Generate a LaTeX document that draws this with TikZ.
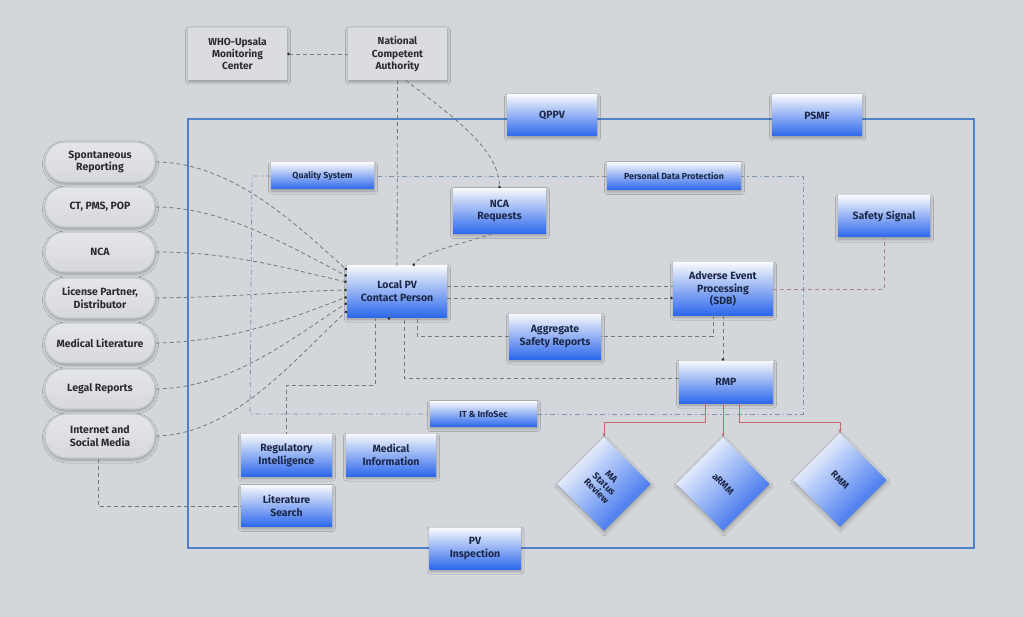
\documentclass[tikz,border=0pt]{standalone}
\usepackage{fontspec}
\setmainfont{Fira Sans}
\usetikzlibrary{shadows,shadows.blur,arrows.meta,calc}
\definecolor{bg}{HTML}{D3D6DA}
\definecolor{btop}{HTML}{F6F8FC}
\definecolor{bbot}{HTML}{2D68EC}
\definecolor{txt}{HTML}{1C2848}
\definecolor{gtxt}{HTML}{2A2C30}
\definecolor{gbox}{HTML}{DADCDF}
\definecolor{ptop}{HTML}{E4E6E9}
\definecolor{pbot}{HTML}{D6D8DB}
\definecolor{pedge}{HTML}{C4C7CB}
\definecolor{conncol}{HTML}{74787E}
\definecolor{innercol}{HTML}{7F95AE}
\definecolor{framecol}{HTML}{5282C6}
\definecolor{redcol}{HTML}{C06A6A}
\definecolor{sigcol}{HTML}{A98488}
\definecolor{dotcol}{HTML}{2A2C30}
\tikzset{
  box/.style={rectangle, inner sep=2pt, align=center, font=\fontsize{10.5}{12.8}\selectfont\bfseries, text=txt},
  shad/.style={blur shadow={shadow xshift=0.5pt, shadow yshift=-2pt, shadow blur radius=3pt, shadow blur steps=6, shadow opacity=30}},
  bluebox/.style={box, top color=btop, bottom color=bbot, shad},
  smallbox/.style={bluebox, font=\fontsize{8.8}{10}\selectfont\bfseries},
  greybox/.style={box, fill=gbox, text=gtxt, minimum width=99pt, minimum height=52pt, font=\fontsize{10.2}{12.2}\selectfont\bfseries, shad},
  pill/.style={box, rounded corners=20pt, top color=ptop, bottom color=pbot, draw=pedge, line width=1.2pt, text=gtxt, minimum width=110pt, minimum height=40pt, shad},
  diamondbox/.style={box, rotate=-45, minimum width=66pt, minimum height=66pt, top color=white, bottom color=bbot, shading angle=45, font=\fontsize{9.5}{10.5}\selectfont\bfseries, shad},
  conn/.style={draw=conncol, dash pattern=on 4pt off 3pt, line width=0.8pt},
  innerline/.style={draw=innercol, dash pattern=on 5pt off 3pt on 1.5pt off 3pt, line width=0.8pt},
  redline/.style={draw=redcol, line width=0.8pt, -{Stealth[length=4pt,width=3pt]}},
  dotend/.style={-{Circle[length=2.6pt,color=dotcol]}},
  dotstart/.style={{Circle[length=2.6pt,color=dotcol]}-},
}
\begin{document}
\begin{tikzpicture}[x=1pt,y=-1pt]
\fill[bg] (0,0) rectangle (1024,617);
\useasboundingbox (0,0) rectangle (1024,617);

% outer frame
\draw[framecol, line width=1.3pt] (188,119) rectangle (974,548);

% nodes
\node[greybox] (who) at (237.5,54) {WHO-Upsala\\Monitoring\\Center};
\node[greybox] (ncaauth) at (397.5,54) {National\\Competent\\Authority};

\node[bluebox, minimum width=90pt, minimum height=41pt] (qppv) at (552,115.5) {QPPV};
\node[bluebox, minimum width=90pt, minimum height=41pt] (psmf) at (817,115.5) {PSMF};
\node[smallbox, minimum width=103pt, minimum height=26pt] (qs) at (322.5,176) {Quality System};
\node[smallbox, minimum width=134pt, minimum height=27pt] (pdp) at (674,176) {Personal Data Protection};
\node[bluebox, minimum width=93pt, minimum height=45pt] (ncareq) at (499.5,211) {NCA\\Requests};
\node[bluebox, minimum width=100pt, minimum height=51pt] (lpv) at (397,291.5) {Local PV\\Contact Person};
\node[bluebox, minimum width=100pt, minimum height=52pt] (aep) at (723,289) {Adverse Event\\Processing\\(SDB)};
\node[bluebox, minimum width=92pt, minimum height=45pt] (asr) at (555,336.5) {Aggregate\\Safety Reports};
\node[bluebox, minimum width=92pt, minimum height=41pt] (ss) at (884,216.5) {Safety Signal};
\node[bluebox, minimum width=94pt, minimum height=42pt] (rmp) at (726,382) {RMP};
\node[smallbox, minimum width=107pt, minimum height=25pt] (itis) at (483.5,414) {IT \& InfoSec};
\node[bluebox, minimum width=91pt, minimum height=42pt] (regint) at (286.5,455) {Regulatory\\Intelligence};
\node[bluebox, minimum width=90pt, minimum height=42pt] (medinfo) at (391,455) {Medical\\Information};
\node[bluebox, minimum width=91pt, minimum height=41pt] (lit) at (286.5,506) {Literature\\Search};
\node[bluebox, minimum width=91pt, minimum height=41pt] (pvi) at (475,548.5) {PV\\Inspection};

\node[diamondbox] (ma) at (604,484) {MA\\Status\\Review};
\node[diamondbox] (armm) at (723,484) {aRMM};
\node[diamondbox] (rmm) at (840,480) {RMM};

\node[pill] (p1) at (100,162) {Spontaneous\\Reporting};
\node[pill] (p2) at (100,207) {CT, PMS, POP};
\node[pill] (p3) at (100,252) {NCA};
\node[pill] (p4) at (100,298) {License Partner,\\Distributor};
\node[pill] (p5) at (100,343) {Medical Literature};
\node[pill] (p6) at (100,389) {Legal Reports};
\node[pill, minimum height=44pt, rounded corners=22pt] (p7) at (100,436) {Internet and\\Social Media};

% inner dashed frame
\draw[innerline] (qs.west) -- (252,176) -- (250,414) -- (itis.west);
\draw[innerline] (itis.east) -- (803,414) -- (803,176) -- (pdp.east);
\draw[innerline] (pdp.west) -- (qs.east);

% top connectors
\draw[conn, dotstart] (who.east) -- (ncaauth.west);
\draw[conn] (ncaauth.south) -- (lpv.north);
\draw[conn, dotend] ([xshift=8pt]ncaauth.south) .. controls (455,118) and (499,150) .. (ncareq.north);
\draw[conn, dotend] ([xshift=-7pt]ncareq.south) .. controls (462,244) and (422,252) .. ($(lpv.north)+(16,0)$);

% pills to local PV
\draw[conn, dotend] (p1.east) .. controls (232,162) and (298,226) .. ($(lpv.west)+(0,-21.5)$);
\draw[conn, dotend] (p2.east) .. controls (225,207) and (292,248) .. ($(lpv.west)+(0,-15.5)$);
\draw[conn, dotend] (p3.east) .. controls (235,252) and (292,270) .. ($(lpv.west)+(0,-9.5)$);
\draw[conn, dotend] (p4.east) .. controls (240,297) and (292,291) .. ($(lpv.west)+(0,-1.5)$);
\draw[conn, dotend] (p5.east) .. controls (232,342) and (292,318) .. ($(lpv.west)+(0,5.5)$);
\draw[conn, dotend] (p6.east) .. controls (232,388) and (292,338) .. ($(lpv.west)+(0,11.5)$);
\draw[conn, dotend] (p7.east) .. controls (232,435) and (292,362) .. ($(lpv.west)+(0,19.5)$);

\draw[conn] ([xshift=-2pt]p7.south) |- (lit.west);

% local PV <-> AEP
\draw[conn] (lpv.east |- 0,286) -- (aep.west |- 0,286);
\draw[conn, dotend] (lpv.east |- 0,298) -- (aep.west |- 0,298);
\draw[conn, draw=sigcol] (aep.east) -| (ss.south);
\draw[conn] ([xshift=-10pt]aep.south) |- (asr.east);
\draw[conn, dotend] (aep.south) -- (aep.south |- rmp.north);
\draw[conn] (asr.west) -| ($(lpv.south)+(20,0)$);
\draw[conn] (rmp.west |- 0,378) -| ($(lpv.south)+(7,0)$);
\draw[conn, dotend] ($(lpv.south)+(-8,0)$) -- ($(lpv.south)+(-8,0)$ |- medinfo.north);
\draw[conn] ($(lpv.south)+(-22,0)$) -- ++(0,68) -| (regint.north);

% RMP to diamonds
\draw[redline] ($(rmp.south)+(-21,0)$) -- ++(0,19) -| (ma.north west);
\draw[redline] (armm.north west |- rmp.south) -- (armm.north west);
\draw[redline] ($(rmp.south)+(13,0)$) -- ++(0,19) -| (rmm.north west);
\end{tikzpicture}
\end{document}
